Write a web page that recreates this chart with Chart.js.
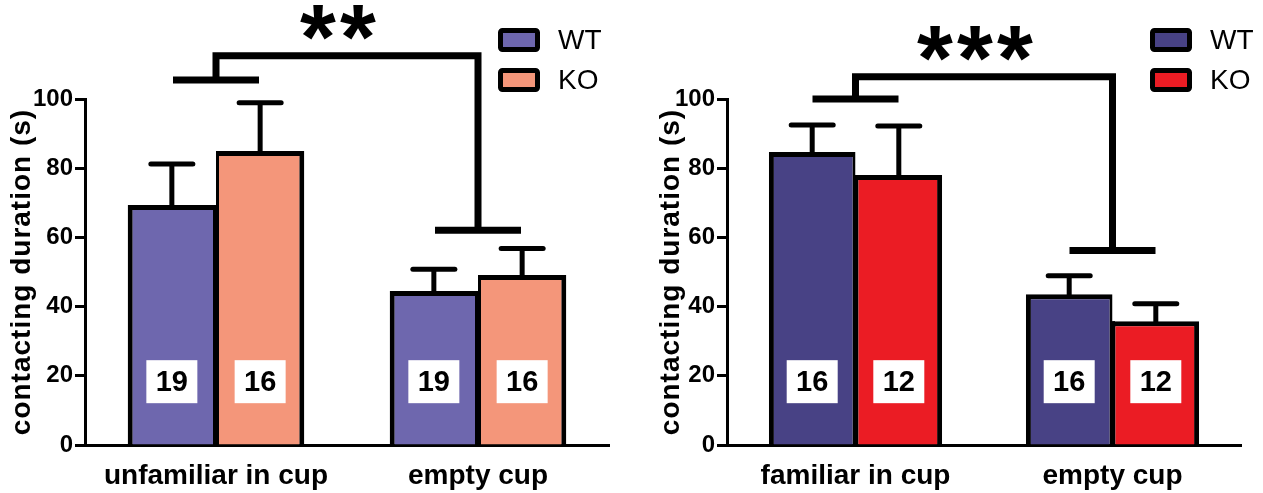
<!DOCTYPE html>
<html><head><meta charset="utf-8">
<script src="https://cdn.jsdelivr.net/npm/chart.js@4.4.0/dist/chart.umd.min.js"></script>
<style>
html,body{margin:0;padding:0;background:#fff;overflow:hidden;}
#wrap{position:relative;width:1263px;height:493px;background:#fff;}
canvas{position:absolute;top:0;}
#c1{left:0;} #c2{left:631px;}
</style></head><body>
<div id="wrap"><canvas id="c1" width="631" height="493"></canvas><canvas id="c2" width="632" height="493"></canvas></div>
<script>
// ---------- data ----------
const yTickValues = [0, 20, 40, 60, 80, 100];
const seriesNames = ['WT', 'KO'];
const yTitle = 'contacting duration (s)';

// Left panel
const categoriesA = ['unfamiliar in cup', 'empty cup'];
const wtMeanA = [69.4, 44.5];
const wtErrA  = [11.8, 6.3];
const koMeanA = [85.0, 49.1];
const koErrA  = [13.9, 7.7];
const wtNA = [19, 19];
const koNA = [16, 16];
const bracketA = [105.5, 112.5, 62.1];   // left arm, top, right arm (y values)
const starsA = '**';

// Right panel
const categoriesB = ['familiar in cup', 'empty cup'];
const wtMeanB = [84.7, 43.6];
const wtErrB  = [7.8, 5.3];
const koMeanB = [78.0, 35.8];
const koErrB  = [14.2, 5.0];
const wtNB = [16, 16];
const koNB = [12, 12];
const bracketB = [100.0, 106.4, 56.2];
const starsB = '***';

const nLabelY = 18.3;

// ---------- styling ----------
const FONT = "'Liberation Sans', Arial, sans-serif";
Chart.defaults.font.family = FONT;
Chart.defaults.color = '#000';

const decorPlugin = {
  id: 'decor',
  afterDatasetsDraw(chart) {
    const o = chart.options.plugins.decor;
    const ctx = chart.ctx;
    const xs = chart.scales.x, ys = chart.scales.y;
    const ca = chart.chartArea;
    ctx.save();
    // extend x axis line left of y axis
    ctx.strokeStyle = '#000'; ctx.lineWidth = 3;
    ctx.beginPath(); ctx.moveTo(ca.left - 9, ca.bottom + 0.5); ctx.lineTo(ca.left, ca.bottom + 0.5); ctx.stroke();
    // divider between adjacent bars
    const m0 = chart.getDatasetMeta(0), m1 = chart.getDatasetMeta(1);
    m0.data.forEach((bw, i) => {
      const bk = m1.data[i];
      const dx = bw.x + bw.width / 2;
      const yTop = Math.max(bw.y, bk.y);
      ctx.lineWidth = 5; ctx.lineCap = 'butt'; ctx.strokeStyle = '#000';
      ctx.beginPath(); ctx.moveTo(dx, ca.bottom); ctx.lineTo(dx, yTop); ctx.stroke();
    });
    // error bars
    chart.data.datasets.forEach((ds, di) => {
      const meta = chart.getDatasetMeta(di);
      meta.data.forEach((bar, i) => {
        const top = ys.getPixelForValue(ds.data[i] + ds.err[i]);
        ctx.strokeStyle = '#000';
        ctx.lineWidth = 5; ctx.lineCap = 'butt';
        ctx.beginPath(); ctx.moveTo(bar.x, bar.y + 2); ctx.lineTo(bar.x, top); ctx.stroke();
        ctx.lineWidth = 5; ctx.lineCap = 'round';
        ctx.beginPath(); ctx.moveTo(bar.x - 21, top); ctx.lineTo(bar.x + 21, top); ctx.stroke();
        // N box
        const cy = ys.getPixelForValue(nLabelY);
        ctx.fillStyle = '#fff';
        ctx.fillRect(bar.x - 25.5, cy - 21.5, 51, 43);
        ctx.fillStyle = '#000';
        ctx.font = 'bold 29px ' + FONT;
        ctx.textAlign = 'center'; ctx.textBaseline = 'middle';
        ctx.fillText(String(ds.n[i]), bar.x, cy + 1);
      });
    });
    // bracket
    const b = o.bracket;
    const c0 = xs.getPixelForValue(0), c1 = xs.getPixelForValue(1);
    const yL = ys.getPixelForValue(b[0]), yT = ys.getPixelForValue(b[1]), yR = ys.getPixelForValue(b[2]);
    ctx.lineWidth = 7; ctx.strokeStyle = '#000'; ctx.lineJoin = 'miter'; ctx.lineCap = 'butt';
    ctx.beginPath();
    ctx.moveTo(c0 - 43, yL); ctx.lineTo(c0 + 43, yL);
    ctx.moveTo(c0, yL); ctx.lineTo(c0, yT); ctx.lineTo(c1, yT); ctx.lineTo(c1, yR);
    ctx.moveTo(c1 - 43, yR); ctx.lineTo(c1 + 43, yR);
    ctx.stroke();
    // stars
    const s = o.stars;
    ctx.font = 'bold 100px ' + FONT;
    ctx.textAlign = 'left'; ctx.textBaseline = 'alphabetic';
    const m = ctx.measureText('*');
    const A = m.actualBoundingBoxAscent, D = m.actualBoundingBoxDescent;
    const L0 = m.actualBoundingBoxLeft, R0 = m.actualBoundingBoxRight;
    const h100 = Math.abs(A + D);
    const scale = 35 / h100;
    const pitch = 40;
    const gw = (L0 + R0) * scale;
    const total = pitch * (s.length - 1) + gw;
    const midX = (c0 + c1) / 2 - 9;
    const bottom = yT - 15;
    for (let k = 0; k < s.length; k++) {
      const gx = midX - total / 2 + k * pitch;
      ctx.save();
      ctx.translate(gx, bottom);
      ctx.scale(scale, scale);
      ctx.fillText(s[k], L0, -D);
      ctx.restore();
    }
    // legend
    const L = o.legend;
    chart.data.datasets.forEach((ds, di) => {
      const cy = L.y[di];
      ctx.fillStyle = ds.backgroundColor;
      ctx.strokeStyle = '#000'; ctx.lineWidth = 5; ctx.lineJoin = 'round';
      ctx.beginPath();
      ctx.roundRect(L.x + 2.5, cy - 9.5, 37, 19, 2);
      ctx.fill(); ctx.stroke();
      ctx.fillStyle = '#000';
      ctx.font = '28px ' + FONT;
      ctx.textAlign = 'left'; ctx.textBaseline = 'middle';
      ctx.fillText(ds.label, L.x + 60, cy + 1);
    });
    // y title
    ctx.save();
    ctx.translate(o.titleX, (ca.top + ca.bottom) / 2);
    ctx.rotate(-Math.PI / 2);
    ctx.font = 'bold 28px ' + FONT;
    ctx.letterSpacing = '1px';
    ctx.textAlign = 'center'; ctx.textBaseline = 'middle';
    ctx.fillText(yTitle, 0, 0);
    ctx.restore();
    ctx.restore();
  }
};

function makeChart(id, cats, wt, wtE, wtN, ko, koE, koN, colors, opts) {
  return new Chart(document.getElementById(id), {
    type: 'bar',
    data: {
      labels: cats,
      datasets: [
        { label: seriesNames[0], data: wt, err: wtE, n: wtN, backgroundColor: colors[0],
          borderColor: '#000', borderWidth: { top: 5, left: 5, right: 3, bottom: 0 }, borderSkipped: false },
        { label: seriesNames[1], data: ko, err: koE, n: koN, backgroundColor: colors[1],
          borderColor: '#000', borderWidth: { top: 5, left: 3, right: 5, bottom: 0 }, borderSkipped: false }
      ]
    },
    options: {
      responsive: false, animation: false, devicePixelRatio: 1,
      layout: { padding: { top: 99, right: opts.padRight, left: 0, bottom: 0 } },
      datasets: { bar: { categoryPercentage: 0.674, barPercentage: 1.0 } },
      plugins: {
        legend: { display: false }, tooltip: { enabled: false },
        decor: { bracket: opts.bracket, stars: opts.stars, legend: opts.legend, titleX: opts.titleX }
      },
      scales: {
        x: {
          grid: { display: false, drawTicks: false },
          border: { display: true, color: '#000', width: 3 },
          ticks: { font: { size: 28, weight: 'bold' }, color: '#000', padding: 14 },
          afterFit: (s) => { s.height = 48; }
        },
        y: {
          min: 0, max: 100,
          afterBuildTicks: (s) => { s.ticks = yTickValues.map(v => ({ value: v })); },
          grid: { drawOnChartArea: false, drawTicks: true, tickLength: 10, tickWidth: 3, tickColor: '#000' },
          border: { display: true, color: '#000', width: 3 },
          ticks: { font: { size: 24, weight: 'bold' }, color: '#000', padding: 2 },
          afterFit: (s) => { s.width = opts.yWidth; }
        }
      }
    },
    plugins: [decorPlugin]
  });
}

makeChart('c1', categoriesA, wtMeanA, wtErrA, wtNA, koMeanA, koErrA, koNA,
  ['#6e67ae', '#f4967a'],
  { padRight: 22, yWidth: 85, bracket: bracketA, stars: starsA, legend: { x: 498, y: [40, 80] }, titleX: 22 });
makeChart('c2', categoriesB, wtMeanB, wtErrB, wtNB, koMeanB, koErrB, koNB,
  ['#484285', '#eb1c24'],
  { padRight: 22, yWidth: 96, bracket: bracketB, stars: starsB, legend: { x: 519, y: [40, 80] }, titleX: 40 });
</script>
</body></html>
